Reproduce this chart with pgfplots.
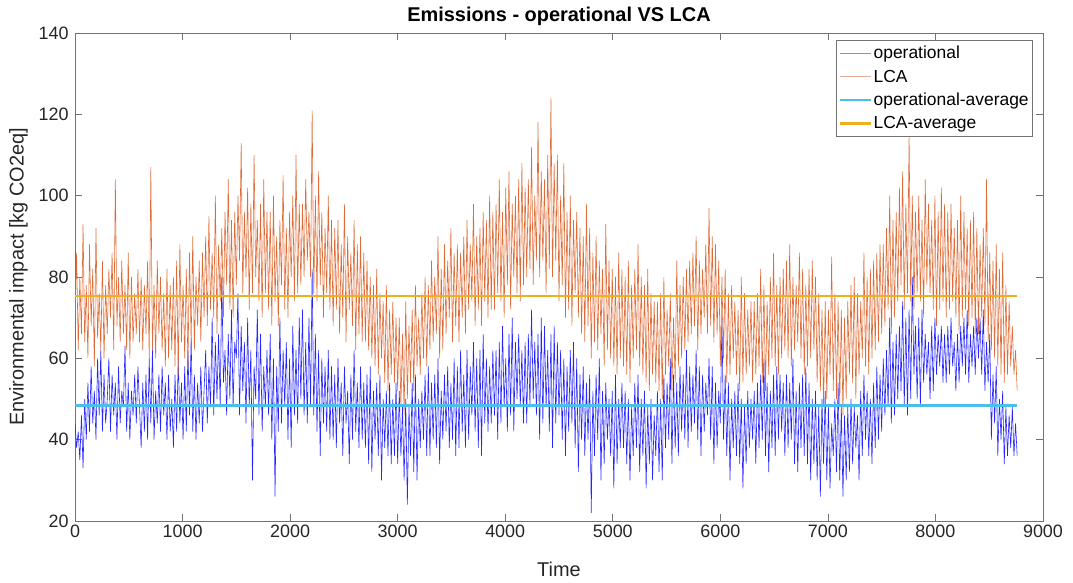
\documentclass[border=0pt]{standalone}
\usepackage{pgfplots}
\pgfplotsset{compat=1.18}
\usepackage{fontspec}
\setmainfont{Liberation Sans}
\definecolor{opc}{rgb}{0.15,0.15,1}
\definecolor{lcac}{rgb}{0.87,0.42,0.22}
\definecolor{opleg}{rgb}{0.55,0.55,0.85}
\definecolor{lcaleg}{rgb}{0.90,0.68,0.58}
\definecolor{opavg}{rgb}{0.30,0.745,0.933}
\definecolor{lcaavg}{rgb}{0.929,0.694,0.125}
\definecolor{axc}{rgb}{0.45,0.45,0.45}
\begin{document}
\begin{tikzpicture}
\useasboundingbox (-75bp,-62bp) rectangle (998bp,521bp);
\begin{axis}[
  at={(0,0)}, anchor=south west,
  width=968bp, height=488bp, scale only axis,
  xmin=0, xmax=9000, ymin=20, ymax=140,
  xtick={0,1000,...,9000}, ytick={20,40,...,140},
  tick align=inside, major tick length=7bp,
  axis line style={axc, line width=0.6pt},
  tick style={axc, line width=0.6pt},
  /pgf/number format/assume math mode=true,
  scaled x ticks=false,
  xticklabel style={font=\fontsize{18}{18}\selectfont, text=black!85},
  yticklabel style={font=\fontsize{18}{18}\selectfont, text=black!85, xshift=-3bp},
  x tick label style={/pgf/number format/1000 sep={}},
  xlabel={Time}, ylabel={Environmental impact [kg CO2eq]},
  every axis x label/.style={at={(axis description cs:0.5,-0.084)}, anchor=north, inner sep=0pt,
    font=\fontsize{20}{20}\selectfont, text=black!85},
  every axis y label/.style={at={(axis description cs:-0.0486,0.5)}, rotate=90, anchor=south, inner sep=0pt,
    font=\fontsize{20}{20}\selectfont, text=black!85},
  title={\textbf{Emissions - operational VS LCA}},
  every axis title/.style={at={(axis description cs:0.5,1)}, anchor=base, yshift=11bp, inner sep=0pt,
    font=\fontsize{20}{20}\selectfont},
  legend style={at={(axis description cs:0.98967,0.98566)}, anchor=north east, font=\fontsize{17.5}{17.5}\selectfont,
    draw=axc, line width=0.6pt, inner xsep=2bp, inner ysep=4bp, row sep=5.5bp, cells={anchor=west}},
]
\addplot[opc, line width=0.6pt, legend image code/.code={\draw[opleg, line width=1bp] (0bp,0bp) -- (31bp,0bp);}] coordinates {
(0,44)(15,38)(30,42)(45,35)(60,46)(75,33)(90,50)(105,40)(120,54)(135,42)(150,58)(165,44)(180,52)(195,40)(210,60)(225,46)(240,62)(255,42)(270,56)(285,44)
(300,50)(315,60)(330,42)(345,56)(360,46)(375,54)(390,40)(405,58)(420,44)(435,52)(450,48)(465,63)(480,42)(495,54)(510,40)(525,52)(540,46)(555,56)(570,44)(585,58)
(600,48)(615,38)(630,54)(645,42)(660,56)(675,40)(690,60)(705,44)(720,62)(735,40)(750,52)(765,44)(780,56)(795,42)(810,58)(825,46)(840,54)(855,40)(870,56)(885,42)
(900,50)(915,38)(930,56)(945,42)(960,60)(975,44)(990,54)(1005,40)(1020,58)(1035,42)(1050,62)(1065,46)(1080,65)(1095,42)(1110,56)(1125,40)(1140,54)(1155,44)(1170,58)(1185,42)
(1200,52)(1215,62)(1230,44)(1245,58)(1260,48)(1275,70)(1290,46)(1305,64)(1320,50)(1335,66)(1350,48)(1365,80)(1380,54)(1395,62)(1410,46)(1425,66)(1440,50)(1455,72)(1470,48)(1485,64)
(1500,60)(1515,76)(1530,46)(1545,68)(1560,52)(1575,64)(1590,44)(1605,70)(1620,48)(1635,62)(1650,30)(1665,58)(1680,50)(1695,72)(1710,46)(1725,66)(1740,42)(1755,58)(1770,48)(1785,62)
(1800,46)(1815,66)(1830,40)(1845,60)(1860,26)(1875,58)(1890,42)(1905,70)(1920,44)(1935,62)(1950,48)(1965,64)(1980,40)(1995,60)(2010,38)(2025,68)(2040,46)(2055,62)(2070,44)(2085,70)
(2100,50)(2115,72)(2130,46)(2145,64)(2160,44)(2175,70)(2190,48)(2205,82)(2220,46)(2235,66)(2250,42)(2265,62)(2280,36)(2295,60)(2310,44)(2325,58)(2340,42)(2355,62)(2370,40)(2385,58)
(2400,40)(2415,56)(2430,38)(2445,60)(2460,44)(2475,54)(2490,36)(2505,58)(2520,44)(2535,52)(2550,34)(2565,56)(2580,40)(2595,62)(2610,42)(2625,54)(2640,38)(2655,58)(2670,40)(2685,54)
(2700,38)(2715,56)(2730,34)(2745,58)(2760,32)(2775,52)(2790,40)(2805,54)(2820,36)(2835,56)(2850,30)(2865,50)(2880,38)(2895,52)(2910,36)(2925,54)(2940,34)(2955,50)(2970,36)(2985,54)
(3000,34)(3015,52)(3030,36)(3045,48)(3060,30)(3075,50)(3090,24)(3105,48)(3120,36)(3135,54)(3150,32)(3165,56)(3180,30)(3195,50)(3210,38)(3225,52)(3240,40)(3255,56)(3270,36)(3285,58)
(3300,36)(3315,54)(3330,40)(3345,56)(3360,38)(3375,60)(3390,34)(3405,52)(3420,40)(3435,56)(3450,42)(3465,58)(3480,38)(3495,54)(3510,40)(3525,60)(3540,36)(3555,58)(3570,38)(3585,62)
(3600,42)(3615,56)(3630,38)(3645,62)(3660,40)(3675,58)(3690,46)(3705,64)(3720,42)(3735,60)(3750,38)(3765,62)(3780,36)(3795,66)(3810,44)(3825,60)(3840,42)(3855,58)(3870,44)(3885,62)
(3900,46)(3915,62)(3930,40)(3945,64)(3960,44)(3975,68)(3990,48)(4005,60)(4020,42)(4035,66)(4050,46)(4065,70)(4080,42)(4095,64)(4110,50)(4125,66)(4140,48)(4155,62)(4170,44)(4185,64)
(4200,44)(4215,66)(4230,48)(4245,72)(4260,50)(4275,64)(4290,46)(4305,66)(4320,40)(4335,70)(4350,44)(4365,68)(4380,48)(4395,62)(4410,42)(4425,66)(4440,38)(4455,68)(4470,44)(4485,64)
(4500,46)(4515,62)(4530,40)(4545,60)(4560,36)(4575,58)(4590,42)(4605,62)(4620,44)(4635,64)(4650,38)(4665,60)(4680,32)(4695,56)(4710,40)(4725,58)(4740,36)(4755,54)(4770,40)(4785,56)
(4800,22)(4815,52)(4830,36)(4845,56)(4860,40)(4875,60)(4890,30)(4905,52)(4920,34)(4935,54)(4950,40)(4965,50)(4980,36)(4995,52)(5010,28)(5025,56)(5040,34)(5055,50)(5070,38)(5085,54)
(5100,38)(5115,52)(5130,34)(5145,50)(5160,30)(5175,48)(5190,36)(5205,54)(5220,38)(5235,56)(5250,32)(5265,50)(5280,36)(5295,52)(5310,28)(5325,48)(5340,34)(5355,50)(5370,30)(5385,46)
(5400,36)(5415,52)(5430,32)(5445,50)(5460,30)(5475,56)(5490,38)(5505,54)(5520,40)(5535,60)(5550,34)(5565,56)(5580,38)(5595,54)(5610,36)(5625,58)(5640,42)(5655,56)(5670,40)(5685,62)
(5700,38)(5715,58)(5730,42)(5745,56)(5760,44)(5775,62)(5790,40)(5805,58)(5820,36)(5835,56)(5850,42)(5865,54)(5880,46)(5895,60)(5910,40)(5925,58)(5940,34)(5955,54)(5970,38)(5985,52)
(6000,44)(6015,70)(6030,40)(6045,56)(6060,36)(6075,54)(6090,30)(6105,50)(6120,38)(6135,52)(6150,36)(6165,54)(6180,34)(6195,50)(6210,28)(6225,48)(6240,34)(6255,52)(6270,38)(6285,50)
(6300,40)(6315,52)(6330,34)(6345,54)(6360,38)(6375,56)(6390,40)(6405,60)(6420,36)(6435,54)(6450,32)(6465,52)(6480,38)(6495,56)(6510,36)(6525,58)(6540,40)(6555,56)(6570,42)(6585,54)
(6600,36)(6615,56)(6630,38)(6645,54)(6660,40)(6675,60)(6690,34)(6705,52)(6720,32)(6735,54)(6750,38)(6765,56)(6780,36)(6795,58)(6810,34)(6825,54)(6840,30)(6855,50)(6870,34)(6885,52)
(6900,30)(6915,48)(6930,26)(6945,50)(6960,34)(6975,52)(6990,30)(7005,48)(7020,28)(7035,44)(7050,36)(7065,50)(7080,32)(7095,54)(7110,30)(7125,48)(7140,26)(7155,46)(7170,30)(7185,48)
(7200,32)(7215,50)(7230,34)(7245,48)(7260,38)(7275,46)(7290,30)(7305,52)(7320,36)(7335,56)(7350,40)(7365,52)(7380,36)(7395,50)(7410,34)(7425,54)(7440,38)(7455,58)(7470,40)(7485,56)
(7500,42)(7515,60)(7530,46)(7545,62)(7560,48)(7575,70)(7590,44)(7605,64)(7620,46)(7635,66)(7650,50)(7665,68)(7680,52)(7695,74)(7710,48)(7725,70)(7740,46)(7755,72)(7770,50)(7785,80)
(7800,56)(7815,68)(7830,50)(7845,70)(7860,48)(7875,72)(7890,54)(7905,66)(7920,56)(7935,64)(7950,50)(7965,68)(7980,52)(7995,70)(8010,56)(8025,66)(8040,58)(8055,68)(8070,54)(8085,66)
(8100,54)(8115,68)(8130,56)(8145,70)(8160,58)(8175,64)(8190,52)(8205,66)(8220,54)(8235,68)(8250,58)(8265,70)(8280,56)(8295,72)(8310,54)(8325,66)(8340,58)(8355,68)(8370,56)(8385,70)
(8400,60)(8415,70)(8430,56)(8445,72)(8460,52)(8475,64)(8490,54)(8505,66)(8520,40)(8535,56)(8550,44)(8565,58)(8580,36)(8595,50)(8610,40)(8625,52)(8640,34)(8655,48)(8670,36)(8685,46)
(8700,38)(8715,48)(8730,36)(8745,44)(8760,36)
};
\addlegendentry{operational}
\addplot[lcac, line width=0.6pt, legend image code/.code={\draw[lcaleg, line width=1bp] (0bp,0bp) -- (31bp,0bp);}] coordinates {
(0,70)(15,86)(30,62)(45,80)(60,66)(75,93)(90,64)(105,78)(120,60)(135,88)(150,68)(165,82)(180,58)(195,92)(210,65)(225,76)(240,62)(255,84)(270,60)(285,78)
(300,66)(315,82)(330,70)(345,86)(360,62)(375,104)(390,68)(405,80)(420,64)(435,84)(450,66)(465,78)(480,62)(495,86)(510,60)(525,80)(540,64)(555,76)(570,66)(585,82)
(600,64)(615,80)(630,62)(645,78)(660,66)(675,84)(690,60)(705,107)(720,62)(735,78)(750,60)(765,84)(780,66)(795,80)(810,62)(825,76)(840,58)(855,82)(870,60)(885,78)
(900,62)(915,80)(930,58)(945,84)(960,56)(975,88)(990,64)(1005,78)(1020,60)(1035,82)(1050,58)(1065,86)(1080,64)(1095,90)(1110,62)(1125,80)(1140,68)(1155,84)(1170,64)(1185,86)
(1200,70)(1215,90)(1230,68)(1245,95)(1260,72)(1275,86)(1290,70)(1305,100)(1320,66)(1335,88)(1350,74)(1365,92)(1380,70)(1395,96)(1410,78)(1425,104)(1440,72)(1455,94)(1470,70)(1485,96)
(1500,78)(1515,100)(1530,84)(1545,113)(1560,76)(1575,96)(1590,80)(1605,102)(1620,72)(1635,98)(1650,76)(1665,110)(1680,80)(1695,94)(1710,74)(1725,98)(1740,70)(1755,104)(1770,76)(1785,96)
(1800,72)(1815,96)(1830,68)(1845,100)(1860,74)(1875,90)(1890,68)(1905,94)(1920,78)(1935,105)(1950,72)(1965,92)(1980,70)(1995,96)(2010,80)(2025,100)(2040,74)(2055,110)(2070,76)(2085,98)
(2100,78)(2115,98)(2130,80)(2145,104)(2160,84)(2175,96)(2190,80)(2205,121)(2220,76)(2235,100)(2250,74)(2265,106)(2280,78)(2295,96)(2310,70)(2325,92)(2340,76)(2355,100)(2370,72)(2385,94)
(2400,68)(2415,92)(2430,72)(2445,94)(2460,66)(2475,88)(2490,70)(2505,98)(2520,64)(2535,90)(2550,72)(2565,86)(2580,68)(2595,94)(2610,62)(2625,88)(2640,66)(2655,90)(2670,64)(2685,86)
(2700,64)(2715,84)(2730,62)(2745,80)(2760,60)(2775,78)(2790,58)(2805,82)(2820,56)(2835,76)(2850,60)(2865,74)(2880,54)(2895,78)(2910,52)(2925,72)(2940,56)(2955,74)(2970,54)(2985,70)
(3000,52)(3015,70)(3030,48)(3045,66)(3060,46)(3075,74)(3090,50)(3105,68)(3120,54)(3135,72)(3150,52)(3165,78)(3180,58)(3195,70)(3210,56)(3225,76)(3240,60)(3255,80)(3270,58)(3285,78)
(3300,62)(3315,84)(3330,64)(3345,80)(3360,66)(3375,90)(3390,60)(3405,82)(3420,62)(3435,88)(3450,66)(3465,84)(3480,70)(3495,92)(3510,64)(3525,86)(3540,68)(3555,88)(3570,64)(3585,86)
(3600,70)(3615,90)(3630,66)(3645,94)(3660,72)(3675,88)(3690,74)(3705,98)(3720,68)(3735,90)(3750,72)(3765,92)(3780,68)(3795,96)(3810,74)(3825,94)(3840,70)(3855,100)(3870,72)(3885,96)
(3900,72)(3915,98)(3930,76)(3945,104)(3960,74)(3975,96)(3990,70)(4005,102)(4020,78)(4035,106)(4050,72)(4065,98)(4080,80)(4095,100)(4110,76)(4125,104)(4140,74)(4155,108)(4170,78)(4185,102)
(4200,80)(4215,104)(4230,82)(4245,112)(4260,78)(4275,100)(4290,84)(4305,118)(4320,80)(4335,106)(4350,84)(4365,104)(4380,76)(4395,110)(4410,82)(4425,124)(4440,80)(4455,108)(4470,84)(4485,110)
(4500,74)(4515,100)(4530,78)(4545,108)(4560,70)(4575,96)(4590,72)(4605,100)(4620,68)(4635,94)(4650,76)(4665,96)(4680,70)(4695,92)(4710,66)(4725,90)(4740,64)(4755,98)(4770,68)(4785,92)
(4800,60)(4815,86)(4830,64)(4845,90)(4860,62)(4875,84)(4890,66)(4905,82)(4920,58)(4935,93)(4950,62)(4965,84)(4980,60)(4995,82)(5010,58)(5025,80)(5040,56)(5055,86)(5070,60)(5085,82)
(5100,58)(5115,80)(5130,56)(5145,84)(5160,54)(5175,78)(5190,60)(5205,82)(5220,62)(5235,88)(5250,58)(5265,80)(5280,56)(5295,78)(5310,54)(5325,82)(5340,52)(5355,76)(5370,56)(5385,74)
(5400,54)(5415,74)(5430,52)(5445,76)(5460,50)(5475,80)(5490,56)(5505,72)(5520,58)(5535,76)(5550,52)(5565,70)(5580,54)(5595,84)(5610,58)(5625,78)(5640,60)(5655,80)(5670,62)(5685,82)
(5700,64)(5715,84)(5730,66)(5745,86)(5760,68)(5775,90)(5790,62)(5805,84)(5820,66)(5835,82)(5850,70)(5865,88)(5880,66)(5895,97)(5910,68)(5925,90)(5940,64)(5955,88)(5970,66)(5985,84)
(6000,58)(6015,80)(6030,60)(6045,82)(6060,54)(6075,76)(6090,56)(6105,78)(6120,60)(6135,74)(6150,56)(6165,72)(6180,52)(6195,80)(6210,54)(6225,76)(6240,56)(6255,72)(6270,58)(6285,74)
(6300,54)(6315,74)(6330,56)(6345,76)(6360,58)(6375,82)(6390,54)(6405,78)(6420,52)(6435,74)(6450,56)(6465,80)(6480,60)(6495,86)(6510,58)(6525,78)(6540,56)(6555,80)(6570,60)(6585,82)
(6600,62)(6615,84)(6630,60)(6645,88)(6660,58)(6675,80)(6690,62)(6705,78)(6720,64)(6735,86)(6750,60)(6765,82)(6780,56)(6795,78)(6810,58)(6825,82)(6840,60)(6855,84)(6870,62)(6885,80)
(6900,54)(6915,76)(6930,52)(6945,72)(6960,48)(6975,74)(6990,50)(7005,72)(7020,56)(7035,85)(7050,52)(7065,76)(7080,50)(7095,74)(7110,48)(7125,72)(7140,46)(7155,70)(7170,50)(7185,74)
(7200,56)(7215,78)(7230,54)(7245,80)(7260,50)(7275,76)(7290,56)(7305,74)(7320,60)(7335,86)(7350,58)(7365,80)(7380,56)(7395,82)(7410,60)(7425,84)(7440,62)(7455,86)(7470,64)(7485,88)
(7500,66)(7515,88)(7530,68)(7545,92)(7560,72)(7575,100)(7590,66)(7605,94)(7620,70)(7635,96)(7650,74)(7665,102)(7680,78)(7695,106)(7710,72)(7725,98)(7740,76)(7755,115)(7770,74)(7785,100)
(7800,72)(7815,96)(7830,76)(7845,100)(7860,74)(7875,94)(7890,70)(7905,104)(7920,78)(7935,98)(7950,76)(7965,94)(7980,72)(7995,100)(8010,68)(8025,96)(8040,72)(8055,102)(8070,74)(8085,98)
(8100,70)(8115,96)(8130,72)(8145,98)(8160,74)(8175,92)(8190,70)(8205,94)(8220,66)(8235,100)(8250,70)(8265,96)(8280,72)(8295,92)(8310,68)(8325,94)(8340,70)(8355,96)(8370,66)(8385,92)
(8400,66)(8415,88)(8430,70)(8445,92)(8460,68)(8475,104)(8490,64)(8505,86)(8520,62)(8535,84)(8550,60)(8565,88)(8580,58)(8595,82)(8610,56)(8625,86)(8640,54)(8655,78)(8670,56)(8685,74)
(8700,58)(8715,68)(8730,56)(8745,62)(8760,52)
};
\addlegendentry{LCA}
\addplot[opavg, line width=2.2bp, legend image code/.code={\draw[opavg, line width=2.2bp] (0bp,0bp) -- (31bp,0bp);}] coordinates {(0,48.4)(8760,48.4)};
\addlegendentry{operational-average}
\addplot[lcaavg, line width=2.2bp, legend image code/.code={\draw[lcaavg, line width=2.2bp] (0bp,0bp) -- (31bp,0bp);}] coordinates {(0,75.4)(8760,75.4)};
\addlegendentry{LCA-average}
\end{axis}
\end{tikzpicture}
\end{document}
